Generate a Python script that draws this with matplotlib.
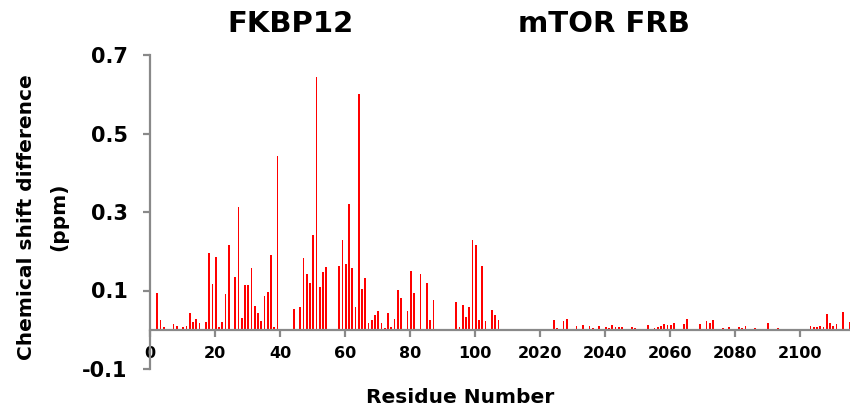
import matplotlib
matplotlib.use("Agg")
import matplotlib.pyplot as plt

# FKBP12 residues and chemical shift differences (ppm)
fkbp_res = [2, 3, 4, 7, 8, 10, 11, 12, 13, 14, 15, 17, 18, 19, 20, 21, 22, 23, 24,
            26, 27, 28, 29, 30, 31, 32, 33, 34, 35, 36, 37, 38, 39, 44, 46, 47, 48,
            49, 50, 51, 52, 53, 54, 58, 59, 60, 61, 62, 63, 64, 65, 66, 67, 68, 69,
            70, 71, 72, 73, 74, 75, 76, 77, 79, 80, 81, 83, 85, 86, 87, 94, 95, 96,
            97, 98, 99, 100, 101, 102, 103, 105, 106, 107]
fkbp_csd = [0.093, 0.025, 0.008, 0.014, 0.009, 0.008, 0.010, 0.042, 0.021, 0.028,
            0.018, 0.020, 0.195, 0.117, 0.185, 0.006, 0.019, 0.091, 0.216,
            0.135, 0.313, 0.029, 0.114, 0.115, 0.157, 0.061, 0.043, 0.023, 0.087,
            0.096, 0.191, 0.008, 0.443, 0.054, 0.059, 0.183, 0.142,
            0.120, 0.241, 0.644, 0.109, 0.148, 0.161, 0.162, 0.228, 0.167, 0.321,
            0.158, 0.057, 0.601, 0.104, 0.132, 0.018, 0.025, 0.038,
            0.047, 0.016, 0.005, 0.042, 0.007, 0.027, 0.101, 0.081, 0.047, 0.150,
            0.093, 0.142, 0.119, 0.026, 0.076, 0.071, 0.006, 0.064,
            0.033, 0.057, 0.229, 0.217, 0.024, 0.162, 0.022, 0.050, 0.038, 0.026]

# mTOR FRB residues and chemical shift differences (ppm)
frb_res = [2024, 2025, 2027, 2028, 2031, 2033, 2035, 2036, 2038, 2040, 2041, 2042,
           2043, 2044, 2045, 2048, 2049, 2052, 2053, 2055, 2056, 2057, 2058, 2059,
           2060, 2061, 2064, 2065, 2069, 2071, 2072, 2073, 2076, 2078, 2081, 2082,
           2083, 2086, 2090, 2091, 2093, 2103, 2104, 2105, 2106, 2107, 2108, 2109,
           2110, 2111, 2113, 2115]
frb_csd = [0.025, 0.004, 0.022, 0.028, 0.0085, 0.0127, 0.010, 0.005, 0.010, 0.0076,
           0.005, 0.012, 0.006, 0.0076, 0.0068, 0.0076, 0.005, 0.0025, 0.0127, 0.004,
           0.0068, 0.010, 0.0144, 0.012, 0.0127, 0.018, 0.015, 0.028, 0.015, 0.023,
           0.016, 0.024, 0.004, 0.007, 0.007, 0.004, 0.010, 0.005, 0.017, 0.003,
           0.004, 0.009, 0.0076, 0.0076, 0.010, 0.0068, 0.041, 0.017, 0.010, 0.015,
           0.046, 0.019]

frb_offset = 1900  # FRB residues drawn after FKBP12 on a shared axis

x_ticks = [0, 20, 40, 60, 80, 100, 120, 140, 160, 180, 200]
x_labels = ["0", "20", "40", "60", "80", "100", "2020", "2040", "2060", "2080", "2100"]
y_ticks = [-0.1, 0.1, 0.3, 0.5, 0.7]
y_labels = ["-0.1", "0.1", "0.3", "0.5", "0.7"]

gray = "#898989"

fig = plt.figure(figsize=(8.5, 4.09), dpi=100)
ax = fig.add_axes([150 / 850, 40 / 409, 700 / 850, 314 / 409])

ax.bar(fkbp_res, fkbp_csd, width=0.5, align="edge", color="#ff0000", linewidth=0)
ax.bar([r - frb_offset for r in frb_res], frb_csd, width=0.5, align="edge",
       color="#ff0000", linewidth=0)

ax.set_xlim(0, 215.4)
ax.set_ylim(-0.1, 0.7)

ax.spines["top"].set_visible(False)
ax.spines["right"].set_visible(False)
ax.spines["bottom"].set_position(("data", 0))
for s in ("left", "bottom"):
    ax.spines[s].set_color(gray)
    ax.spines[s].set_linewidth(1.6)

ax.set_xticks(x_ticks)
ax.set_xticklabels(x_labels, fontsize=11.5, fontweight="bold")
ax.set_yticks(y_ticks)
ax.set_yticklabels(y_labels, fontsize=15, fontweight="bold")
ax.tick_params(axis="x", direction="out", length=5, width=1.6, color=gray, pad=7)
ax.tick_params(axis="y", direction="out", length=5, width=1.6, color=gray, pad=11)

fig.text(291 / 850, 1 - 24 / 409, "FKBP12", ha="center", va="center",
         fontsize=21, fontweight="bold")
fig.text(604 / 850, 1 - 24 / 409, "mTOR FRB", ha="center", va="center",
         fontsize=21, fontweight="bold")
fig.text(460 / 850, 1 - 403 / 409, "Residue Number", ha="center", va="baseline",
         fontsize=14.5, fontweight="bold")
fig.text(27 / 850, 1 - 217 / 409, "Chemical shift difference", rotation=90,
         ha="center", va="center", fontsize=14.5, fontweight="bold")
fig.text(59 / 850, 1 - 217 / 409, "(ppm)", rotation=90,
         ha="center", va="center", fontsize=14.5, fontweight="bold")

fig.savefig("out.png", dpi=100)
